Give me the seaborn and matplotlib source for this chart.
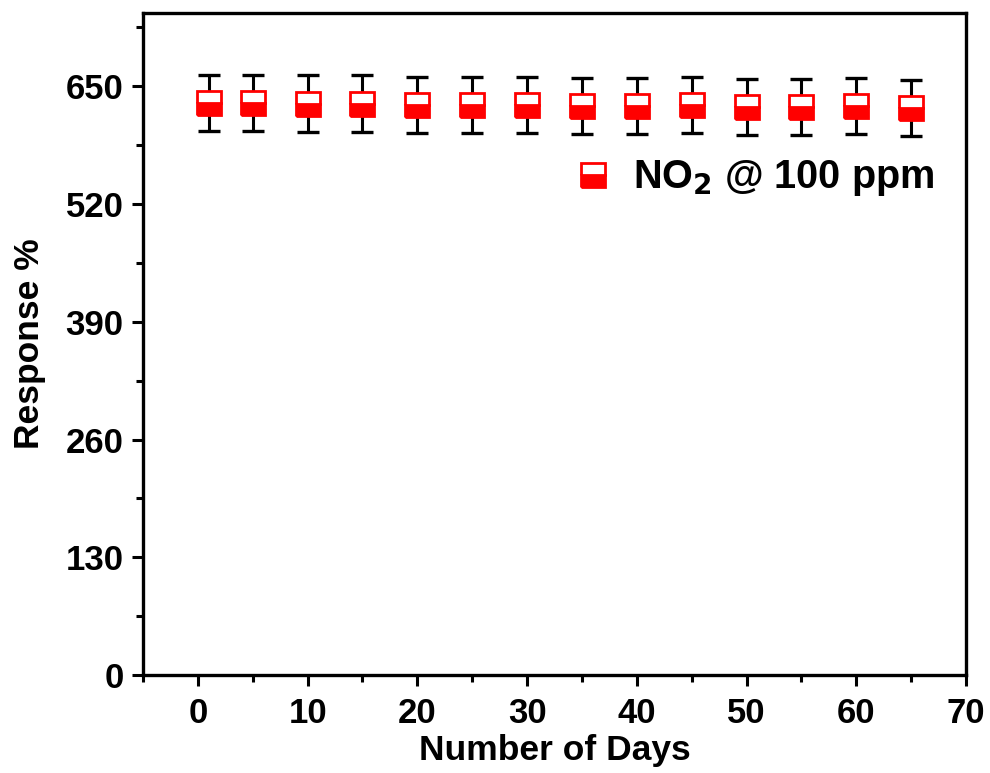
import matplotlib
matplotlib.use("Agg")
import matplotlib.pyplot as plt
from matplotlib.ticker import MultipleLocator
import seaborn as sns
import pandas as pd

# Sensor response to NO2 (100 ppm) over repeated testing days
days = [1, 5, 10, 15, 20, 25, 30, 35, 40, 45, 50, 55, 60, 65]
response = [632, 632, 631, 631, 629, 629, 629, 628, 628, 629, 627, 627, 628, 626]
error = [31, 31, 31, 31, 31, 31, 31, 31, 31, 31, 31, 31, 31, 31]

df = pd.DataFrame({"day": days, "response": response, "err": error})

sns.set_theme(style="white")
plt.rcParams["font.family"] = ["Liberation Sans", "DejaVu Sans"]
plt.rcParams["font.weight"] = "bold"
plt.rcParams["mathtext.default"] = "bf"
plt.rcParams["text.color"] = "black"
plt.rcParams["axes.labelcolor"] = "black"
plt.rcParams["xtick.color"] = "black"
plt.rcParams["ytick.color"] = "black"

fig = plt.figure(figsize=(9.9, 7.73), dpi=100)
ax = fig.add_axes([0.1444, 0.1268, 0.8314, 0.8564])

ax.errorbar(df["day"], df["response"], yerr=df["err"], fmt="none",
            ecolor="black", elinewidth=2.2, capsize=8, capthick=2.4, zorder=2)

sns.lineplot(data=df, x="day", y="response", ax=ax, linestyle="none",
             marker="s", markersize=17.5, color="red", markeredgecolor="red",
             markeredgewidth=2, fillstyle="bottom", markerfacecoloralt="white",
             label="NO$_2$ @ 100 ppm", zorder=3)

ax.set_xlim(-5, 70)
ax.set_ylim(0, 731)
ax.xaxis.set_major_locator(MultipleLocator(10))
ax.xaxis.set_minor_locator(MultipleLocator(5))
ax.yaxis.set_major_locator(MultipleLocator(130))
ax.yaxis.set_minor_locator(MultipleLocator(65))

ax.tick_params(axis="both", which="major", direction="out", length=8, width=2.2,
               labelsize=25, color="black", labelcolor="black", pad=6,
               bottom=True, left=True)
ax.tick_params(axis="x", which="major", pad=8)
ax.tick_params(axis="both", which="minor", direction="out", length=5, width=2.2,
               color="black", bottom=True, left=True)
for lbl in ax.get_xticklabels() + ax.get_yticklabels():
    lbl.set_fontweight("bold")

for side in ["left", "bottom", "right", "top"]:
    ax.spines[side].set_visible(True)
    ax.spines[side].set_color("black")
    ax.spines[side].set_linewidth(2.4)

ax.set_xlabel("Number of Days", fontsize=25.5, fontweight="bold", labelpad=3)
ax.set_ylabel("Response %", fontsize=25.5, fontweight="bold", labelpad=14)

leg = ax.legend(loc="center left", bbox_to_anchor=(0.48, 0.75), frameon=False,
                handlelength=1.0, handletextpad=0.5,
                prop={"weight": "bold", "size": 28.5})

fig.savefig("out.png", dpi=100)
